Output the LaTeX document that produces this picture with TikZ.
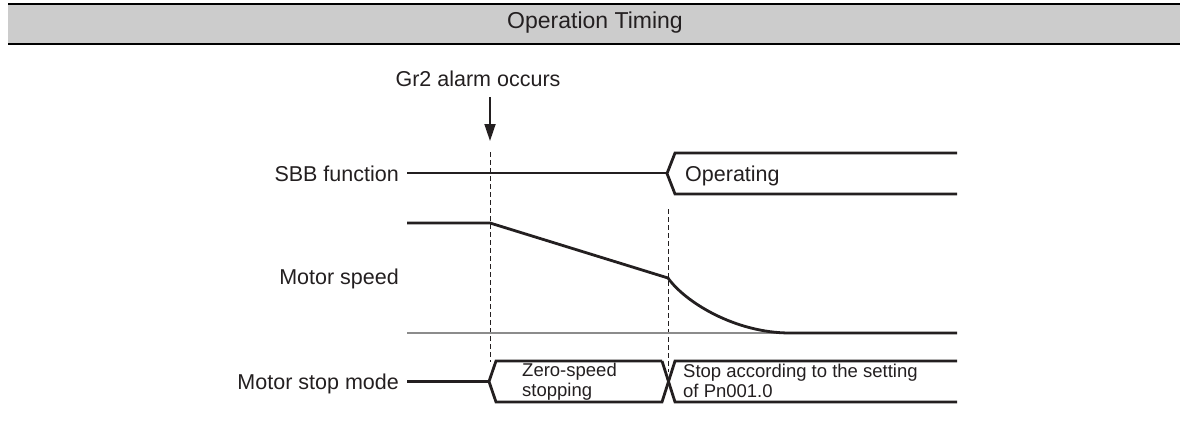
\documentclass[tikz,border=0pt]{standalone}
\usepackage{fontspec}
\setmainfont{Liberation Sans}
\usetikzlibrary{arrows.meta}
\definecolor{band}{HTML}{CCCCCC}
\definecolor{ink}{HTML}{231F20}
\definecolor{basegray}{HTML}{8C8C8C}
\begin{document}
\begin{tikzpicture}[x=1pt,y=-1pt,
  sig/.style={line width=2.8pt, draw=ink, line join=miter},
  guide/.style={line width=1pt, draw=ink, dash pattern=on 5pt off 3pt},
  lbl/.style={font=\fontsize{21.5}{25}\selectfont, text=ink, anchor=base east, inner sep=0pt},
  boxtxt/.style={font=\fontsize{18.5}{20}\selectfont, text=ink, align=left, anchor=base west, inner sep=0pt}]
\useasboundingbox (0,0) rectangle (1185,423);
% header band
\fill[band] (8,4) rectangle (1180,44);
\draw[line width=2pt] (8,3.8) -- (1180,3.8);
\draw[line width=2pt] (8,43.7) -- (1180,43.7);
\node[font=\fontsize{23}{27}\selectfont, text=ink, inner sep=0pt] (title) at (595,23) {Operation Timing};
% alarm
\node[font=\fontsize{21.5}{25}\selectfont, text=ink, inner sep=0pt, anchor=base] (alarm) at (478,86) {Gr2 alarm occurs};
\coordinate (arrS) at (490,97);
\coordinate (arrE) at (490,141);
\draw[line width=1.8pt, draw=ink, -{Triangle[length=17pt,width=11pt]}] (arrS) -- (arrE);
% guides
\coordinate (g1t) at (490,152);
\coordinate (g1b) at (490,362);
\coordinate (g2t) at (668,209);
\coordinate (g2b) at (668,372);
\draw[guide] (g1t) -- (g1b);
\draw[guide] (g2t) -- (g2b);
% labels
\node[lbl] (sbb) at (399,181) {SBB function};
\node[lbl] (ms) at (399,284) {Motor speed};
\node[lbl] (msm) at (399,389) {Motor stop mode};
% SBB function signal
\draw[sig] (407,173) -- (667,173);
\draw[sig] (957,153) -- (675,153) -- (667,173.5) -- (675,194) -- (957,194);
\node[font=\fontsize{21.5}{25}\selectfont, text=ink, anchor=base west, inner sep=0pt] (op) at (685,181) {Operating};
% Motor speed
\draw[line width=1.4pt, draw=basegray] (407,333) -- (957,333);
\draw[sig] (407,223) -- (490,223) -- (668,278)
  .. controls (685,302) and (735,333) .. (790,333) -- (957,333);
% Motor stop mode
\draw[sig] (407,381.5) -- (489,381.5);
\draw[sig] (662,361) -- (496,361) -- (489,381.5) -- (496,402) -- (662,402) -- (675,361) -- (957,361);
\draw[sig] (662,361) -- (675,402) -- (957,402);
\node[boxtxt] (zs) at (522,396.5) {Zero-speed\\stopping};
\node[boxtxt] (st) at (683,397) {Stop according to the setting\\of Pn001.0};
\end{tikzpicture}
\end{document}
